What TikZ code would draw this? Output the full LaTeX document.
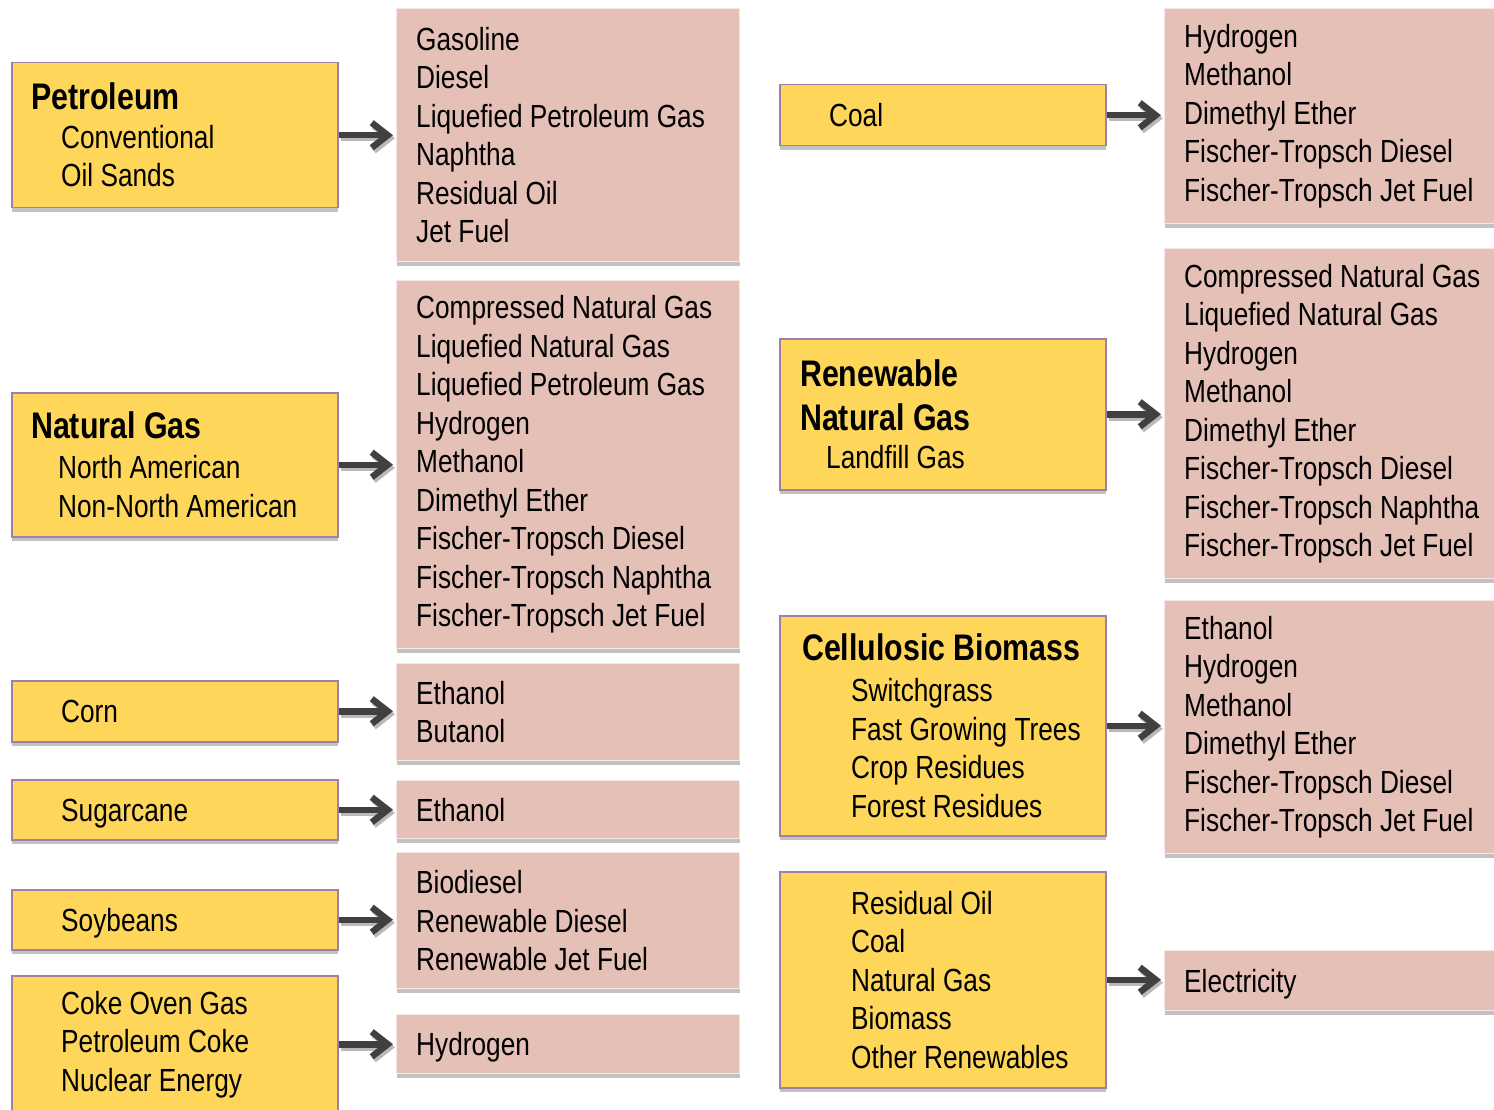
\documentclass[tikz,border=0pt]{standalone}
\usepackage{fontspec}
\setmainfont{Liberation Sans}[FakeStretch=0.82]
\usetikzlibrary{positioning,arrows.meta,shadows}
\definecolor{srcyellow}{RGB}{253,214,90}
\definecolor{srcedge}{RGB}{160,128,165}
\definecolor{fuelpink}{RGB}{229,192,183}
\definecolor{fueledge}{RGB}{246,232,228}
\definecolor{arrowgray}{RGB}{64,64,64}
\newcommand{\ttl}[1]{{\fontsize{37}{44}\selectfont\bfseries #1}}
\newcommand{\ind}[1]{\hspace*{#1pt}}

\begin{document}
\begin{tikzpicture}[x=1pt, y=-1pt,
    src/.style={draw=srcedge, line width=1.5pt, fill=srcyellow, anchor=north west,
        minimum width=326pt, inner sep=0pt,
        drop shadow={shadow xshift=0pt, shadow yshift=-4pt, fill=gray!80, opacity=0.6}},
    fuel/.style={draw=fueledge, line width=1.2pt, fill=fuelpink, anchor=north west,
        inner sep=0pt,
        drop shadow={shadow xshift=0pt, shadow yshift=-4pt, fill=gray!80, opacity=0.6}},
    lbl/.style={align=left, inner sep=0pt, anchor=west, font=\fontsize{32}{38.5}\selectfont},
    oneline/.style={lbl, text height=23pt, text depth=0pt},
    flow/.style={-{Straight Barb[length=16pt,width=25pt]}, line width=6.5pt, arrowgray, shorten >=3pt},
    ]
\useasboundingbox (0,0) rectangle (1494,1110);

% sources, left column
\node[src, minimum height=145pt] (petro) at (11,62) {};
\node[src, minimum height=144pt] (ngas) at (11,392) {};
\node[src, minimum height=61pt] (corn) at (11,680) {};
\node[src, minimum height=60pt] (sugar) at (11,779) {};
\node[src, minimum height=60pt] (soy) at (11,889) {};
\node[src, minimum height=137pt] (coke) at (11,975) {};

\node[lbl, right=20pt of petro.west] (petro-t) {\ttl{Petroleum}\\ \ind{30}Conventional\\ \ind{30}Oil Sands};
\node[lbl, right=20pt of ngas.west] (ngas-t) {\ttl{Natural Gas}\\[1.5pt] \ind{27}North American\\ \ind{27}Non-North American};
\node[oneline, right=50pt of corn.west] (corn-t) {Corn};
\node[oneline, right=50pt of sugar.west] (sugar-t) {Sugarcane};
\node[oneline, right=50pt of soy.west] (soy-t) {Soybeans};
\node[lbl, right=50pt of coke.west] (coke-t) {Coke Oven Gas\\ Petroleum Coke\\ Nuclear Energy};

% fuels, second column
\node[fuel, minimum width=343pt, minimum height=253pt] (gasol) at (396,8) {};
\node[fuel, minimum width=343pt, minimum height=368pt] (cng) at (396,280) {};
\node[fuel, minimum width=343pt, minimum height=97pt] (ethbut) at (396,663) {};
\node[fuel, minimum width=343pt, minimum height=58pt] (eth) at (396,780) {};
\node[fuel, minimum width=343pt, minimum height=136pt] (biod) at (396,852) {};
\node[fuel, minimum width=343pt, minimum height=59pt] (hyd) at (396,1014) {};

\node[lbl, right=20pt of gasol.west] (gasol-t) {Gasoline\\ Diesel\\ Liquefied Petroleum Gas\\ Naphtha\\ Residual Oil\\ Jet Fuel};
\node[lbl, right=20pt of cng.west] (cng-t) {Compressed Natural Gas\\ Liquefied Natural Gas\\ Liquefied Petroleum Gas\\ Hydrogen\\ Methanol\\ Dimethyl Ether\\ Fischer-Tropsch Diesel\\ Fischer-Tropsch Naphtha\\ Fischer-Tropsch Jet Fuel};
\node[lbl, right=20pt of ethbut.west] (ethbut-t) {Ethanol\\ Butanol};
\node[oneline, right=20pt of eth.west] (eth-t) {Ethanol};
\node[lbl, right=20pt of biod.west] (biod-t) {Biodiesel\\ Renewable Diesel\\ Renewable Jet Fuel};
\node[oneline, right=20pt of hyd.west] (hyd-t) {Hydrogen};

% sources, third column
\node[src, minimum height=61pt] (coal) at (779,84) {};
\node[src, minimum height=151pt] (rng) at (779,338) {};
\node[src, minimum height=220pt] (cell) at (779,615) {};
\node[src, minimum height=216pt] (power) at (779,871) {};

\node[oneline, right=50pt of coal.west] (coal-t) {Coal};
\node[lbl, right=21pt of rng.west] (rng-t) {\ttl{Renewable}\\[5.5pt] \ttl{Natural Gas}\\ \ind{26}Landfill Gas};
\node[lbl, right=23pt of cell.west] (cell-t) {\ttl{Cellulosic Biomass}\\[2.5pt] \ind{49}Switchgrass\\ \ind{49}Fast Growing Trees\\ \ind{49}Crop Residues\\ \ind{49}Forest Residues};
\node[lbl, right=72pt of power.west] (power-t) {Residual Oil\\ Coal\\ Natural Gas\\ Biomass\\ Other Renewables};

% fuels, right column
\node[fuel, minimum width=330pt, minimum height=215pt] (coalf) at (1164,8) {};
\node[fuel, minimum width=330pt, minimum height=330pt] (rngf) at (1164,248) {};
\node[fuel, minimum width=330pt, minimum height=253pt] (cellf) at (1164,600) {};
\node[fuel, minimum width=330pt, minimum height=60pt] (elec) at (1164,950) {};

\node[lbl, right=20pt of coalf.west] (coalf-t) {Hydrogen\\ Methanol\\ Dimethyl Ether\\ Fischer-Tropsch Diesel\\ Fischer-Tropsch Jet Fuel};
\node[lbl, right=20pt of rngf.west] (rngf-t) {Compressed Natural Gas\\ Liquefied Natural Gas\\ Hydrogen\\ Methanol\\ Dimethyl Ether\\ Fischer-Tropsch Diesel\\ Fischer-Tropsch Naphtha\\ Fischer-Tropsch Jet Fuel};
\node[lbl, right=20pt of cellf.west] (cellf-t) {Ethanol\\ Hydrogen\\ Methanol\\ Dimethyl Ether\\ Fischer-Tropsch Diesel\\ Fischer-Tropsch Jet Fuel};
\node[oneline, right=20pt of elec.west] (elec-t) {Electricity};

% arrows with their shadow
\foreach \s/\f in {petro/gasol, ngas/cng, corn/ethbut, sugar/eth, soy/biod, coke/hyd,
    coal/coalf, rng/rngf, cell/cellf, power/elec} {
  \draw[flow, gray!55, transform canvas={shift={(2pt,-3pt)}}] (\s.east) -- (\s.east -| \f.west);
  \draw[flow] (\s.east) -- (\s.east -| \f.west);
}

\end{tikzpicture}
\end{document}
